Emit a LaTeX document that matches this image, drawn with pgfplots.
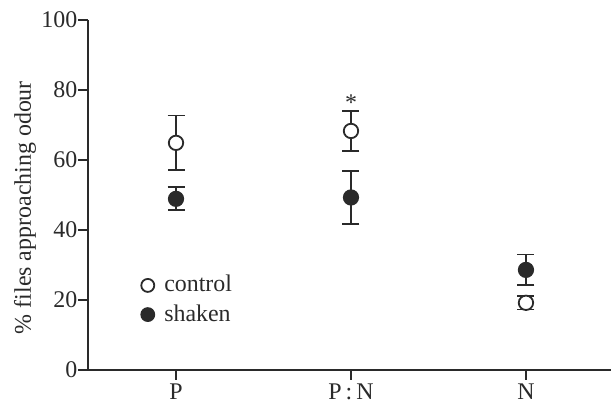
\documentclass[border=0pt]{standalone}
\usepackage{pgfplots}
\pgfplotsset{compat=1.18}
\usepackage{fontspec}
\setmainfont{Liberation Serif}
\definecolor{ink}{HTML}{2A2A2A}
\begin{document}
\fontsize{24}{28}\selectfont
\begin{tikzpicture}
\useasboundingbox (-88bp,-37bp) rectangle (523bp,370bp);
\begin{axis}[
  scale only axis, width=523bp, height=350bp,
  xmin=-0.503, xmax=2.486, ymin=0, ymax=100,
  axis x line=bottom, axis y line=left,
  axis line style={-, ink, line width=1.6bp},
  every tick/.style={ink, line width=1.6bp},
  tick align=outside, major tick length=9.5bp,
  xtick={0,1,2}, xticklabels={P, P\,:\,N, N},
  ytick={0,20,40,60,80,100},
  /pgf/number format/assume math mode=true,
  tick label style={font=\fontsize{24}{28}\selectfont, text=ink},
  yticklabel style={inner sep=1bp},
  xticklabel style={inner sep=0bp, yshift=-4bp},
  every axis y label/.style={at={(axis description cs:0,0.464)}, xshift=-63bp, rotate=90, anchor=center, font=\fontsize{24}{28}\selectfont, text=ink},
  ylabel={\% files approaching odour},
  clip=false,
  legend style={draw=none, fill=none, at={(axis description cs:0.1015,0.2)}, anchor=west, font=\fontsize{24}{28}\selectfont, text=ink, row sep=5bp, inner sep=0pt,
    nodes={inner xsep=6bp}, /tikz/every odd column/.append style={column sep=4bp}},
  legend cell align=left,
  legend image code/.code={\draw[#1, mark size=6.5bp] plot coordinates {(8bp,0bp)};},
]
\addplot+[only marks, mark=*, mark size=7.2bp, mark options={draw=ink, fill=white, line width=1.8bp},
  error bars/.cd, y dir=both, y explicit,
  error bar style={ink, line width=1.8bp},
  error mark options={rotate=90, mark size=8.5bp, ink, line width=1.8bp}]
  coordinates {
  (0,64.9) +- (0,7.8)
  (1,68.3) +- (0,5.8)
  (2,19.2) +- (0,1.9)
  };
\addlegendentry{control}
\addplot+[only marks, mark=*, mark size=7.2bp, mark options={draw=ink, fill=ink, line width=1.8bp},
  error bars/.cd, y dir=both, y explicit,
  error bar style={ink, line width=1.8bp},
  error mark options={rotate=90, mark size=8.5bp, ink, line width=1.8bp}]
  coordinates {
  (0,48.9) +- (0,3.3)
  (1,49.3) +- (0,7.5)
  (2,28.6) +- (0,4.4)
  };
\addlegendentry{shaken}
\node[font=\fontsize{24}{28}\selectfont, text=ink] at (axis cs:1,76.3) {*};
\end{axis}
\end{tikzpicture}
\end{document}
